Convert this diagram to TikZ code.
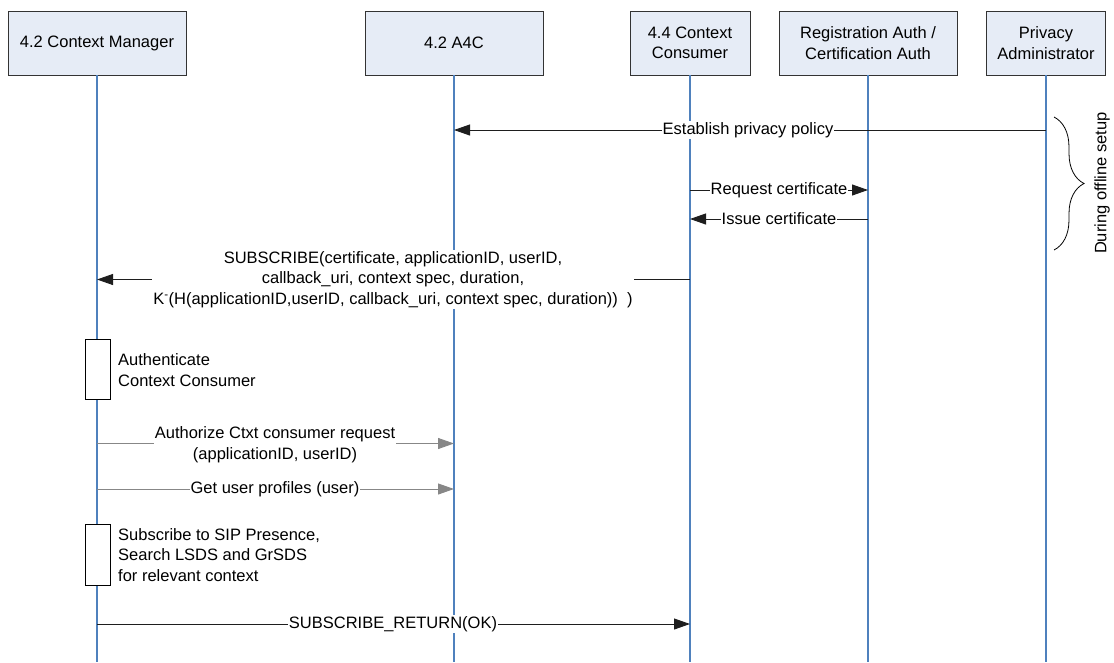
\documentclass[tikz,border=0pt]{standalone}
\usepackage{fontspec}
\setmainfont{Liberation Sans}
\usetikzlibrary{arrows.meta,decorations.pathreplacing}
\definecolor{lifeblue}{RGB}{79,129,189}
\definecolor{boxfill}{RGB}{230,236,246}
\definecolor{msggray}{RGB}{135,135,135}
\definecolor{msgdark}{RGB}{30,30,30}
\tikzset{
  hdr/.style={draw=black!80, line width=0.9pt, fill=boxfill, minimum height=64pt, align=center, inner sep=2pt},
  life/.style={draw=lifeblue, line width=1.3pt},
  msg/.style={draw=msgdark, line width=0.9pt, -{Triangle[length=16pt,width=11pt]}},
  gmsg/.style={draw=msggray, line width=0.9pt, -{Triangle[length=16pt,width=11pt]}},
  lbl/.style={fill=white, inner xsep=1pt, inner ysep=1pt, align=center},
  actbox/.style={draw=black, line width=0.9pt, fill=white, minimum width=25pt},
  note/.style={anchor=west, align=left, inner sep=2pt}
}
\begin{document}
\begin{tikzpicture}[x=1pt,y=-1pt, font=\fontsize{16.5}{20.5}\selectfont]
\useasboundingbox (0,0) rectangle (1114,662);
% headers
\node[hdr, minimum width=178pt] (cm) at (97,43) {4.2 Context Manager};
\node[hdr, minimum width=178pt] (a4c) at (454,43) {4.2 A4C};
\node[hdr, minimum width=120pt] (cc) at (690,43) {4.4 Context\\Consumer};
\node[hdr, minimum width=178pt] (reg) at (868,43) {Registration Auth /\\Certification Auth};
\node[hdr, minimum width=119pt] (pa) at (1046,43) {Privacy\\Administrator};
% lifeline ends
\coordinate (cmE) at (97,662);
\coordinate (a4cE) at (454,662);
\coordinate (ccE) at (690,662);
\coordinate (regE) at (868,662);
\coordinate (paE) at (1046,662);
\draw[life] (cm.south) -- (cmE);
\draw[life] (a4c.south) -- (a4cE);
\draw[life] (cc.south) -- (ccE);
\draw[life] (reg.south) -- (regE);
\draw[life] (pa.south) -- (paE);
% message rows
\coordinate (y1) at (0,130);
\coordinate (y2) at (0,190);
\coordinate (y3) at (0,219);
\coordinate (y4) at (0,279.5);
\coordinate (y5) at (0,443.5);
\coordinate (y6) at (0,489);
\coordinate (y7) at (0,624);
% messages
\draw[msg] (pa |- y1) -- (a4c |- y1);
\node[lbl] (l1) at (748,130) {Establish privacy policy};
\draw[msg] (cc |- y2) -- (reg |- y2);
\node[lbl] (l2) at (779,190) {Request certificate};
\draw[msg] (reg |- y3) -- (cc |- y3);
\node[lbl] (l3) at (779,219) {Issue certificate};
\draw[msg] (cc |- y4) -- (cm |- y4);
\node[lbl] (l4) at (393,279.5) {SUBSCRIBE(certificate, applicationID, userID,\\callback\_uri, context spec, duration,\\K\textsuperscript{-}(H(applicationID,userID, callback\_uri, context spec, duration))\ \ )};
% activation 1
\node[actbox, minimum height=60pt] (act1) at (97.5,369) {};
\node[note] (t1) at (116,370) {Authenticate\\Context Consumer};
\draw[gmsg] (cm |- y5) -- (a4c |- y5);
\node[lbl] (l5) at (275,444.5) {Authorize Ctxt consumer request\\(applicationID, userID)};
\draw[gmsg] (cm |- y6) -- (a4c |- y6);
\node[lbl] (l6) at (275,489) {Get user profiles (user)};
% activation 2
\node[actbox, minimum height=61pt] (act2) at (97.5,554.5) {};
\node[note] (t2) at (116,555) {Subscribe to SIP Presence,\\Search LSDS and GrSDS\\for relevant context};
\draw[msg] (cm |- y7) -- (cc |- y7);
\node[lbl] (l7) at (393,624) {SUBSCRIBE\_RETURN(OK)};
% brace
\coordinate (bt) at (1054,117);
\coordinate (bb) at (1054,250);
\draw[line width=0.8pt, decorate, decoration={brace, amplitude=30pt}] (bt) -- (bb);
\node[rotate=90] (off) at (1102,183) {During offline setup};
\end{tikzpicture}
\end{document}
